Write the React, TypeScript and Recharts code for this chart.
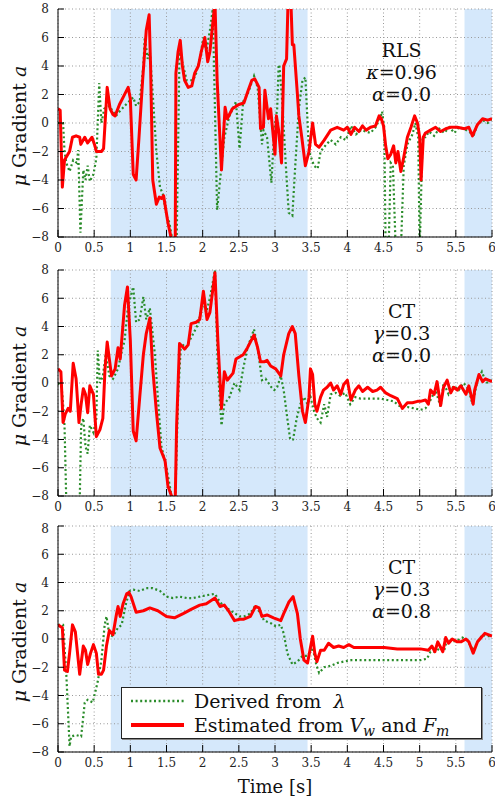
import React from 'react'
import { LineChart, Line, XAxis, YAxis, CartesianGrid, ReferenceArea, ReferenceDot, Legend } from 'recharts'

type Pt = [number, number]

const xTicks = [0, 0.5, 1, 1.5, 2, 2.5, 3, 3.5, 4, 4.5, 5, 5.5, 6]
const yTicks = [-8, -6, -4, -2, 0, 2, 4, 6, 8]
const shadedSpans: Pt[] = [[0.73, 3.45], [5.62, 6]]

// panel 1: RLS, kappa 0.96, alpha 0.0
const rlsEstimated: Pt[] = [
  [0, 1.0], [0.03, 0.9], [0.06, -4.5], [0.09, -2.6], [0.16, -2.0], [0.2, -1.0], [0.25, -0.9], [0.3, -1.0],
  [0.315, -1.5], [0.37, -1.0], [0.41, -1.4], [0.47, -1.0], [0.51, -1.6], [0.53, -2.0], [0.6, -2.0], [0.63, -1.8],
  [0.68, 2.5], [0.72, 1.0], [0.76, 0.6], [0.79, 0.5], [0.85, 1.3], [0.9, 1.8], [0.97, 2.5], [1.0, 1.7],
  [1.04, -3.6], [1.08, -4.0], [1.12, -1.0], [1.17, 3.0], [1.22, 6.5], [1.26, 7.6], [1.28, 4.0], [1.31, -4.0],
  [1.36, -5.7], [1.4, -5.2], [1.43, -5.3], [1.46, -5.1], [1.52, -7.0], [1.57, -8.2], [1.62, -9.5], [1.63, 3.5],
  [1.66, 5.0], [1.69, 5.8], [1.72, 4.0], [1.75, 3.0], [1.8, 2.5], [1.85, 2.6], [1.89, 3.5], [1.94, 4.0],
  [1.98, 5.0], [2.03, 6.0], [2.07, 4.3], [2.1, 5.0], [2.14, 7.0], [2.17, 8.5], [2.2, 3.0], [2.26, -3.3],
  [2.31, 1.1], [2.34, 0.3], [2.41, 1.0], [2.5, 1.3], [2.57, 1.4], [2.63, 2.3], [2.68, 3.0], [2.72, 3.1],
  [2.78, 2.5], [2.8, -0.4], [2.84, -0.3], [2.86, 2.3], [2.91, 0.3], [2.94, 1.0], [3.0, -2.2], [3.02, 0.5],
  [3.05, -0.5], [3.09, -2.8], [3.12, 4.0], [3.16, 4.5], [3.18, 8.5], [3.22, 8.5], [3.24, 5.5], [3.26, 5.5],
  [3.31, 2.0], [3.33, 0.5], [3.37, -1.0], [3.42, -3.0], [3.47, -2.0], [3.52, 0.0], [3.56, -1.5], [3.61, -1.7],
  [3.68, -1.2], [3.77, -0.5], [3.86, -0.3], [3.95, -0.5], [4.0, -0.3], [4.05, -0.8], [4.1, -0.3], [4.16, -0.6],
  [4.21, -0.2], [4.26, -0.5], [4.32, -0.3], [4.39, -0.2], [4.44, 0.5], [4.47, 0.3], [4.5, -0.2], [4.53, -1.6],
  [4.56, -2.5], [4.6, -2.2], [4.64, -1.6], [4.67, -2.8], [4.7, -2.0], [4.74, -3.4], [4.78, -2.4], [4.83, -1.0],
  [4.88, -0.3], [4.93, 0.5], [4.97, 0.0], [5.0, -1.0], [5.02, -4.0], [5.05, -1.0], [5.08, -0.7], [5.15, -0.5],
  [5.22, -0.3], [5.29, -0.6], [5.36, -0.4], [5.43, -0.3], [5.52, -0.3], [5.62, -0.4], [5.68, -0.3], [5.73, -0.9],
  [5.8, -0.1], [5.87, 0.3], [5.94, 0.2], [6.0, 0.3],
]
const rlsDerived: Pt[] = [
  [0, 0], [0.07, 0], [0.09, -2], [0.115, -2.8], [0.16, -3.4], [0.21, -2.6], [0.26, -2.8], [0.28, -1.9],
  [0.31, -7.7], [0.35, -3.3], [0.38, -4.0], [0.41, -3.0], [0.44, -4.1], [0.49, -3.6], [0.53, -2.5], [0.57, 2.8],
  [0.6, 0.0], [0.64, 1.0], [0.71, 1.2], [0.8, 0.5], [0.85, 0.8], [0.94, 1.3], [1.04, 1.8], [1.08, 1.2],
  [1.13, 1.5], [1.18, 4.0], [1.2, 6.0], [1.24, 4.5], [1.27, 5.0], [1.31, 2.0], [1.36, -2.0], [1.41, -4.5],
  [1.45, -5.0], [1.5, -6.5], [1.54, -7.0], [1.59, -8.5], [1.64, -8.5], [1.68, 5.0], [1.73, 4.0], [1.78, 3.0],
  [1.87, 3.0], [1.91, 3.5], [1.96, 4.5], [2.01, 6.0], [2.05, 5.0], [2.1, 6.5], [2.14, 8.0], [2.2, -6.1],
  [2.26, -3.0], [2.3, -1.0], [2.37, 0.5], [2.46, 1.5], [2.51, -1.8], [2.56, 1.5], [2.62, 2.0], [2.71, 3.3],
  [2.76, 2.5], [2.82, -1.5], [2.84, -0.5], [2.89, -1.0], [2.95, -4.2], [2.99, -0.5], [3.03, 1.0], [3.05, 4.0],
  [3.06, 4.1], [3.1, 1.5], [3.15, -3.0], [3.19, -6.3], [3.24, -6.5], [3.28, -3.0], [3.33, 1.0], [3.38, 3.0],
  [3.42, 3.2], [3.47, -2.0], [3.54, -3.0], [3.59, -3.2], [3.63, -2.0], [3.71, -1.5], [3.77, -1.2], [3.84, -1.5],
  [3.91, -1.0], [3.98, -1.2], [4.05, -0.2], [4.12, -0.8], [4.19, -0.5], [4.26, -0.6], [4.32, -0.7], [4.39, -0.3],
  [4.46, 0.4], [4.48, 0.8], [4.51, -0.3], [4.53, -9], [4.57, -9], [4.6, -2.8], [4.63, -3.0], [4.67, -9],
  [4.74, -9], [4.78, -3.0], [4.83, -1.5], [4.9, -0.8], [4.94, 0.0], [4.98, -1.0], [5.0, -9], [5.04, -1.0],
  [5.08, -1.0], [5.13, -0.6], [5.2, -0.9], [5.27, -0.4], [5.34, -0.7], [5.41, -0.3], [5.48, -0.7], [5.54, -0.3],
  [5.61, -0.4], [5.71, -0.7], [5.75, -0.8], [5.8, -0.1], [5.87, 0.2], [5.94, 0.0], [6.0, 0.3],
]

// panel 2: CT, gamma 0.3, alpha 0.0
const ctEstimated: Pt[] = [
  [0, 1.0], [0.04, 0.8], [0.07, -2.8], [0.1, -2.2], [0.14, -1.8], [0.17, -2.0], [0.21, 1.4], [0.25, 0.3],
  [0.29, -2.8], [0.32, -1.5], [0.35, -0.4], [0.38, -0.8], [0.41, -2.1], [0.44, -0.2], [0.49, -0.8], [0.53, -3.8],
  [0.58, -3.3], [0.62, -2.5], [0.65, 1.0], [0.68, 2.9], [0.74, 0.5], [0.79, 1.0], [0.83, 2.5], [0.86, 1.7],
  [0.92, 5.5], [0.96, 6.8], [1.0, 3.0], [1.04, -3.4], [1.08, -4.1], [1.13, -1.0], [1.18, 2.0], [1.22, 3.5],
  [1.27, 4.6], [1.31, 1.0], [1.36, -2.0], [1.41, -4.6], [1.48, -5.5], [1.52, -7.3], [1.57, -8.0], [1.62, -8.5],
  [1.64, -3.0], [1.68, 2.8], [1.75, 2.4], [1.8, 2.7], [1.84, 4.2], [1.91, 4.3], [1.96, 4.5], [2.01, 6.5],
  [2.06, 4.5], [2.1, 5.0], [2.17, 7.8], [2.21, 3.0], [2.26, -1.8], [2.3, 0.8], [2.34, 0.2], [2.42, 0.7],
  [2.46, 1.7], [2.56, 2.0], [2.62, 2.5], [2.71, 3.4], [2.76, 2.5], [2.8, 1.5], [2.85, 1.5], [2.89, 1.6],
  [2.94, 1.2], [3.01, 1.0], [3.08, 0.5], [3.12, 2.0], [3.19, 3.5], [3.24, 4.0], [3.28, 3.5], [3.33, 0.5],
  [3.38, -2.0], [3.42, -2.8], [3.47, -1.0], [3.49, 1.0], [3.52, 0.6], [3.55, -1.5], [3.58, -2.0], [3.63, -1.0],
  [3.67, -0.5], [3.72, -0.3], [3.77, 0.0], [3.81, -0.5], [3.86, -0.2], [3.91, -0.8], [3.95, -0.1], [4.0, 0.2],
  [4.05, -1.2], [4.11, -0.5], [4.16, -0.2], [4.21, -0.6], [4.28, -0.3], [4.35, -0.6], [4.41, -0.5], [4.46, -0.3],
  [4.53, -0.7], [4.6, -0.9], [4.69, -1.1], [4.76, -1.8], [4.83, -1.4], [4.9, -1.4], [4.97, -1.3], [5.01, -1.3],
  [5.08, -1.2], [5.12, -1.5], [5.15, -0.5], [5.2, -0.8], [5.24, 0.1], [5.29, -1.6], [5.33, -0.3], [5.38, 0.2],
  [5.43, -0.7], [5.47, -0.3], [5.52, -0.5], [5.57, -0.2], [5.64, -0.8], [5.68, -0.2], [5.74, -1.5], [5.76, -0.5],
  [5.82, 0.6], [5.87, 0.1], [5.91, 0.3], [6.0, 0.1],
]
const ctDerived: Pt[] = [
  [0, 0], [0.05, -0.3], [0.07, -1.5], [0.09, -3.0], [0.115, -8.5], [0.16, -9], [0.23, -9], [0.3, -8.5],
  [0.32, -3.0], [0.35, -2.5], [0.38, -4.5], [0.41, -5.0], [0.44, -3.0], [0.49, -3.5], [0.53, -2.5], [0.55, 2.3],
  [0.58, 0.0], [0.62, 0.5], [0.66, 2.0], [0.71, 0.5], [0.76, 0.3], [0.83, 1.0], [0.88, 2.2], [0.92, 3.0],
  [0.97, 5.5], [1.04, 6.8], [1.08, 4.3], [1.13, 4.5], [1.18, 6.1], [1.22, 4.5], [1.27, 5.3], [1.34, 2.0],
  [1.38, -1.0], [1.43, -4.5], [1.5, -6.0], [1.57, -8.0], [1.62, -8.5], [1.66, -1.0], [1.7, 2.8], [1.77, 2.5],
  [1.87, 3.5], [1.94, 4.2], [2.0, 5.8], [2.05, 5.0], [2.1, 6.0], [2.17, 8.0], [2.21, 1.0], [2.26, -3.0],
  [2.3, -1.5], [2.37, -1.0], [2.44, 0.0], [2.51, -0.5], [2.56, 1.0], [2.62, 2.5], [2.71, 3.8], [2.76, 2.5],
  [2.82, 0.2], [2.87, 0.3], [2.95, -0.3], [2.99, -0.5], [3.03, -0.3], [3.08, 0.5], [3.12, -0.5], [3.17, -2.5],
  [3.21, -4.0], [3.25, -4.0], [3.3, -2.5], [3.35, -1.5], [3.4, -1.0], [3.45, -1.5], [3.49, -1.0], [3.54, -2.0],
  [3.58, -2.5], [3.63, -2.8], [3.68, -1.5], [3.72, -2.4], [3.77, -0.8], [3.84, -0.7], [3.9, -0.9], [3.97, -0.7],
  [4.04, -1.5], [4.11, -1.0], [4.18, -1.1], [4.28, -1.1], [4.37, -1.1], [4.46, -1.1], [4.55, -1.2], [4.64, -1.3],
  [4.74, -1.7], [4.83, -1.7], [4.93, -1.8], [5.01, -1.9], [5.08, -1.8], [5.15, -1.2], [5.22, -0.5], [5.29, -1.7],
  [5.33, 0.0], [5.4, -0.8], [5.47, -0.2], [5.54, -0.5], [5.61, 0.0], [5.68, -0.5], [5.73, -1.5], [5.8, 0.2],
  [5.86, 0.8], [5.92, 0.0], [6.0, 0.2],
]

// panel 3: CT, gamma 0.3, alpha 0.8
const ctAlphaEstimated: Pt[] = [
  [0, 1.0], [0.06, 0.8], [0.09, -2.2], [0.13, -2.3], [0.16, -1.0], [0.2, 1.0], [0.24, 0.5], [0.3, -2.5],
  [0.35, -0.5], [0.38, -0.8], [0.41, -1.8], [0.45, -1.0], [0.49, -0.4], [0.53, -1.0], [0.56, -2.5], [0.6, -2.5],
  [0.63, -2.2], [0.67, -0.5], [0.71, 0.6], [0.76, 0.3], [0.81, 1.8], [0.83, 2.3], [0.86, 1.6], [0.9, 2.5],
  [0.95, 3.2], [0.98, 3.3], [1.01, 3.0], [1.08, 1.9], [1.18, 2.0], [1.27, 2.2], [1.38, 2.0], [1.5, 1.6],
  [1.61, 1.5], [1.73, 1.8], [1.84, 2.1], [1.96, 2.4], [2.05, 2.5], [2.17, 2.9], [2.24, 2.3], [2.3, 2.4],
  [2.37, 1.9], [2.44, 1.3], [2.51, 1.4], [2.57, 1.4], [2.66, 1.6], [2.73, 2.3], [2.78, 2.2], [2.82, 1.6],
  [2.89, 1.7], [2.98, 1.5], [3.08, 1.3], [3.12, 1.8], [3.19, 2.6], [3.25, 3.0], [3.31, 1.8], [3.35, 0.0],
  [3.4, -1.5], [3.45, -1.7], [3.49, -0.6], [3.52, 0.2], [3.55, -1.0], [3.58, -1.6], [3.63, -0.8], [3.68, -0.8],
  [3.74, -0.3], [3.81, -0.6], [3.88, -0.5], [3.95, -0.6], [4.02, -0.4], [4.09, -0.6], [4.18, -0.6], [4.32, -0.6],
  [4.51, -0.6], [4.69, -0.7], [4.88, -0.7], [5.01, -0.7], [5.12, -0.8], [5.17, -0.5], [5.21, -0.9], [5.25, -0.2],
  [5.29, -0.6], [5.32, -0.9], [5.36, 0.1], [5.4, -0.3], [5.45, 0.0], [5.52, -0.2], [5.57, -0.2], [5.64, 0.0],
  [5.68, -0.2], [5.74, -1.0], [5.8, -0.2], [5.85, 0.1], [5.9, 0.4], [6.0, 0.2],
]
const ctAlphaDerived: Pt[] = [
  [0, 1.0], [0.07, 1.0], [0.115, -2.5], [0.16, -7.6], [0.18, -6.9], [0.25, -6.8], [0.32, -6.9], [0.37, -4.5],
  [0.41, -4.3], [0.48, -4.5], [0.55, -3.0], [0.6, -1.5], [0.645, 1.0], [0.67, 1.6], [0.71, 0.3], [0.76, 0.2],
  [0.83, 0.8], [0.88, 1.0], [0.94, 2.5], [0.99, 3.4], [1.04, 3.5], [1.13, 3.4], [1.22, 3.6], [1.31, 3.6],
  [1.41, 3.4], [1.5, 3.0], [1.59, 2.9], [1.68, 3.0], [1.78, 2.9], [1.87, 2.9], [1.96, 3.0], [2.05, 3.1],
  [2.17, 3.2], [2.24, 2.6], [2.33, 2.2], [2.42, 1.9], [2.51, 1.6], [2.57, 1.6], [2.66, 1.8], [2.73, 2.4],
  [2.8, 1.8], [2.85, 1.3], [2.95, 1.1], [3.01, 0.9], [3.08, 1.0], [3.12, 0.4], [3.17, -1.0], [3.24, -1.8],
  [3.31, -1.6], [3.38, -1.2], [3.45, -1.2], [3.52, -0.6], [3.57, -1.8], [3.61, -2.4], [3.68, -2.0], [3.77, -1.9],
  [3.86, -1.7], [3.95, -1.6], [4.05, -1.5], [4.19, -1.5], [4.35, -1.5], [4.51, -1.5], [4.7, -1.5], [4.88, -1.5],
  [5.01, -1.5], [5.1, -1.4], [5.15, -0.9], [5.22, -0.9], [5.29, -0.6], [5.34, -0.8], [5.38, 0.0], [5.45, -0.2],
  [5.52, -0.1], [5.59, 0.1], [5.66, -0.1], [5.74, -0.8], [5.8, -0.2], [5.87, 0.3], [5.92, 0.2], [6.0, 0.2],
]

// annotation lines: [italic symbol, rest]
const rlsNote: [string, string][] = [['', 'RLS'], ['κ', '=0.96'], ['α', '=0.0']]
const ctNote: [string, string][] = [['', 'CT'], ['γ', '=0.3'], ['α', '=0.0']]
const ctAlphaNote: [string, string][] = [['', 'CT'], ['γ', '=0.3'], ['α', '=0.8']]

const RED = '#ff0000'
const GREEN = '#2a8c2a'
const SHADE = '#d5e8fb'
const SERIF = '"DejaVu Serif", serif'

const toRows = (pts: Pt[]) => pts.map(([t, v]) => ({ t, v }))
const fmtY = (v: number) => (v < 0 ? '\u2212' + Math.abs(v) : String(v))

const YLabel = ({ viewBox }: any) => {
  const cy = viewBox.y + viewBox.height / 2 + 3
  const cx = 19
  return (
    <text x={cx} y={cy} transform={`rotate(-90, ${cx}, ${cy})`} textAnchor="middle" dominantBaseline="central"
      fontFamily={SERIF} fontSize={19} fill="#111">
      <tspan fontStyle="italic">μ</tspan>
      <tspan> Gradient  </tspan>
      <tspan fontStyle="italic">a</tspan>
    </text>
  )
}

const noteLabel = (lines: [string, string][]) => ({ viewBox }: any) => {
  const cx = viewBox.x + (viewBox.width || 0) / 2
  const cy = viewBox.y + (viewBox.height || 0) / 2
  return (
    <text textAnchor="middle" fontFamily={SERIF} fontSize={19} fill="#111">
      {lines.map(([sym, rest], i) => (
        <tspan key={i} x={cx} y={cy + i * 22} dy="0.35em">
          {sym && <tspan fontStyle="italic">{sym}</tspan>}
          {rest}
        </tspan>
      ))}
    </text>
  )
}

const subStyle = { fontStyle: 'italic', fontSize: 14, verticalAlign: '-4px', lineHeight: 0 } as const

const legendRows = [
  { key: 'derived', color: GREEN, width: 2.4, dash: '2 2.6', label: <>Derived from <i style={{ marginLeft: 6 }}>λ</i></> },
  {
    key: 'estimated', color: RED, width: 4, dash: undefined,
    label: <>Estimated from <i>V</i><span style={subStyle}>w</span> and <i>F</i><span style={subStyle}>m</span></>,
  },
]

const LegendBox = () => (
  <div style={{
    width: 361, height: 52, border: '1px solid #222', background: '#fff', boxShadow: '1px 1px 0 #888',
    fontFamily: SERIF, fontSize: 19, color: '#111', boxSizing: 'border-box', paddingTop: 1,
  }}>
    {legendRows.map((r) => (
      <div key={r.key} style={{ display: 'flex', alignItems: 'center', height: 24, lineHeight: '24px', whiteSpace: 'nowrap' }}>
        <svg width={72} height={12} style={{ flex: 'none' }}>
          <line x1={9} x2={62} y1={6} y2={6} stroke={r.color} strokeWidth={r.width} strokeDasharray={r.dash} />
        </svg>
        <span>{r.label}</span>
      </div>
    ))}
  </div>
)

interface PanelProps {
  estimated: Pt[]
  derived: Pt[]
  note: [string, string][]
  height: number
  top: number
  axisHeight: number
  last?: boolean
}

function Panel({ estimated, derived, note, height, top, axisHeight, last }: PanelProps) {
  const tickStyle = { fontFamily: SERIF, fontSize: 12, fill: '#222' }
  return (
    <LineChart width={495} height={height} margin={{ top, right: 3, bottom: 0, left: 0 }}>
      {shadedSpans.map(([a, b], i) => (
        <ReferenceArea key={i} x1={a} x2={b} y1={-8} y2={8} fill={SHADE} fillOpacity={1} stroke="none"
          ifOverflow="hidden" zIndex={-200} />
      ))}
      <CartesianGrid stroke="#999" strokeDasharray="1 2.5" />
      <XAxis dataKey="t" type="number" domain={[0, 6]} ticks={xTicks} allowDataOverflow height={axisHeight}
        tickSize={-7} tickMargin={13} stroke="#000" tick={tickStyle}
        label={last ? { value: 'Time [s]', position: 'insideBottom', offset: 6, style: { fontFamily: SERIF, fontSize: 18, fill: '#111' } } : undefined} />
      <XAxis xAxisId="top" orientation="top" dataKey="t" type="number" domain={[0, 6]} ticks={xTicks} allowDataOverflow
        height={0} tickSize={-7} tick={false} stroke="#000" />
      <YAxis type="number" domain={[-8, 8]} ticks={yTicks} allowDataOverflow width={58} tickSize={-6} tickMargin={15}
        tickFormatter={fmtY} stroke="#000" tick={tickStyle} label={{ content: <YLabel /> }} />
      <YAxis yAxisId="right" orientation="right" type="number" domain={[-8, 8]} ticks={yTicks} allowDataOverflow
        width={0} tickSize={-6} tick={false} stroke="#000" />
      <Line data={toRows(derived)} dataKey="v" name="Derived from λ" stroke={GREEN} strokeWidth={2.2}
        strokeDasharray="2 2.6" dot={false} activeDot={false} isAnimationActive={false} />
      <Line data={toRows(estimated)} dataKey="v" name="Estimated from Vw and Fm" stroke={RED} strokeWidth={3}
        strokeLinejoin="round" dot={false} activeDot={false} isAnimationActive={false} />
      <ReferenceDot x={4.75} y={5.1} r={0} fill="none" stroke="none" label={noteLabel(note)} />
      {last && (
        <Legend layout="vertical" align="center" verticalAlign="middle" content={<LegendBox />}
          wrapperStyle={{ left: 121, top: 166, width: 361 }} />
      )}
    </LineChart>
  )
}

export default function App() {
  return (
    <div style={{ position: 'absolute', left: 0, top: 0, width: 495, height: 799, background: '#fff' }}>
      <div style={{ position: 'absolute', left: 0, top: 0 }}>
        <Panel estimated={rlsEstimated} derived={rlsDerived} note={rlsNote} height={262} top={9} axisHeight={25} />
      </div>
      <div style={{ position: 'absolute', left: 0, top: 262 }}>
        <Panel estimated={ctEstimated} derived={ctDerived} note={ctNote} height={259} top={8} axisHeight={25} />
      </div>
      <div style={{ position: 'absolute', left: 0, top: 521 }}>
        <Panel estimated={ctAlphaEstimated} derived={ctAlphaDerived} note={ctAlphaNote} height={278} top={5} axisHeight={47} last />
      </div>
    </div>
  )
}
